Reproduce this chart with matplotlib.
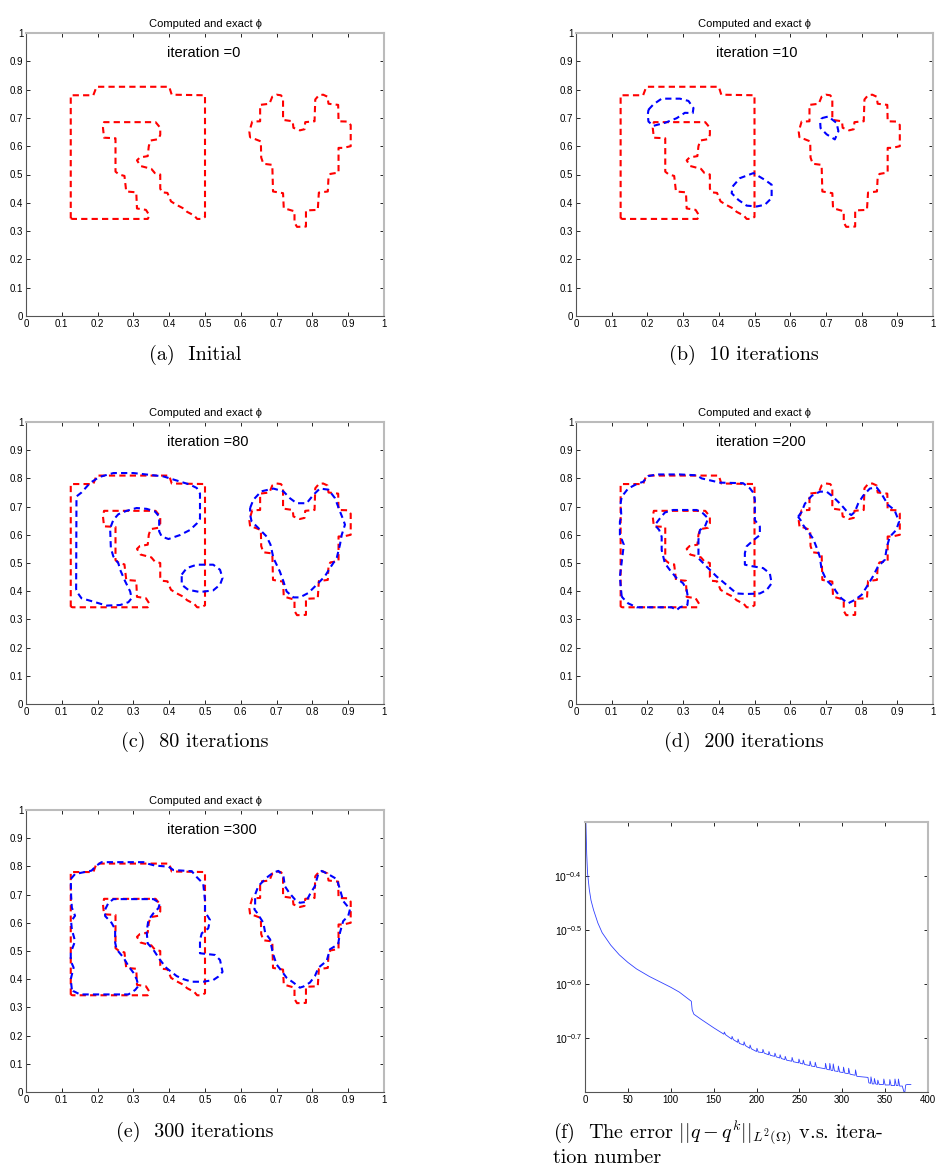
import numpy as np
import matplotlib.pyplot as plt
from matplotlib.ticker import FixedLocator, NullLocator, FuncFormatter

plt.rcParams['mathtext.fontset'] = 'cm'

# exact contour (same in every panel): the "R" block and the heart
exact_r = [(0.125, 0.345), (0.125, 0.780), (0.188, 0.780), (0.197, 0.810), (0.400, 0.810),
           (0.407, 0.782), (0.500, 0.780), (0.500, 0.350), (0.490, 0.343), (0.478, 0.343),
           (0.470, 0.355), (0.450, 0.368), (0.440, 0.380), (0.420, 0.393), (0.405, 0.405),
           (0.400, 0.420), (0.395, 0.435), (0.380, 0.437), (0.375, 0.450), (0.375, 0.500),
           (0.360, 0.505), (0.350, 0.520), (0.320, 0.530), (0.310, 0.550), (0.318, 0.560),
           (0.340, 0.565), (0.343, 0.600), (0.348, 0.620), (0.370, 0.625), (0.375, 0.640),
           (0.375, 0.665), (0.362, 0.685), (0.218, 0.685), (0.215, 0.665), (0.218, 0.630),
           (0.250, 0.628), (0.250, 0.510), (0.260, 0.500), (0.275, 0.495), (0.280, 0.440),
           (0.308, 0.437), (0.310, 0.380), (0.335, 0.375), (0.345, 0.355), (0.340, 0.343),
           (0.130, 0.343)]
exact_heart = [(0.626, 0.630), (0.624, 0.650), (0.628, 0.670), (0.632, 0.687), (0.654, 0.688),
               (0.654, 0.746), (0.680, 0.750), (0.688, 0.775), (0.700, 0.782), (0.712, 0.780),
               (0.718, 0.770), (0.718, 0.693), (0.745, 0.688), (0.747, 0.665), (0.765, 0.656),
               (0.778, 0.660), (0.780, 0.685), (0.806, 0.688), (0.808, 0.765), (0.818, 0.780),
               (0.830, 0.782), (0.842, 0.775), (0.845, 0.750), (0.872, 0.746), (0.873, 0.688),
               (0.898, 0.687), (0.907, 0.675), (0.907, 0.600), (0.886, 0.594), (0.873, 0.594),
               (0.873, 0.507), (0.850, 0.502), (0.845, 0.490), (0.843, 0.440), (0.818, 0.436),
               (0.815, 0.375), (0.782, 0.373), (0.782, 0.316), (0.757, 0.315), (0.750, 0.330),
               (0.750, 0.370), (0.720, 0.381), (0.718, 0.434), (0.690, 0.440), (0.688, 0.534),
               (0.663, 0.538), (0.657, 0.560), (0.656, 0.617), (0.640, 0.625)]

# computed contours, iteration 10
b_blob = [(0.203, 0.729), (0.217, 0.748), (0.240, 0.768), (0.291, 0.768), (0.315, 0.760),
          (0.329, 0.735), (0.327, 0.717), (0.305, 0.718), (0.282, 0.699), (0.268, 0.692),
          (0.250, 0.683), (0.217, 0.672), (0.203, 0.687), (0.201, 0.711)]
b_heart = [(0.688, 0.699), (0.707, 0.705), (0.730, 0.682), (0.735, 0.653), (0.725, 0.624),
           (0.702, 0.642), (0.685, 0.664), (0.684, 0.685)]
b_circle = [(0.439, 0.458), (0.459, 0.487), (0.497, 0.505), (0.529, 0.481), (0.548, 0.464),
            (0.548, 0.417), (0.529, 0.393), (0.506, 0.387), (0.478, 0.390), (0.455, 0.410),
            (0.436, 0.434)]

# iteration 80
c_r = [(0.140, 0.405), (0.141, 0.736), (0.155, 0.750), (0.179, 0.784), (0.205, 0.805),
       (0.244, 0.819), (0.300, 0.819), (0.328, 0.815), (0.384, 0.807), (0.412, 0.796),
       (0.458, 0.778), (0.477, 0.766), (0.486, 0.746), (0.486, 0.657), (0.477, 0.640),
       (0.458, 0.617), (0.430, 0.599), (0.398, 0.585), (0.379, 0.594), (0.372, 0.612),
       (0.372, 0.665), (0.360, 0.683), (0.337, 0.692), (0.309, 0.695), (0.281, 0.685),
       (0.258, 0.673), (0.244, 0.653), (0.235, 0.623), (0.237, 0.553), (0.244, 0.523),
       (0.258, 0.499), (0.263, 0.476), (0.277, 0.435), (0.291, 0.399), (0.295, 0.375),
       (0.286, 0.361), (0.263, 0.351), (0.225, 0.349), (0.188, 0.363), (0.155, 0.375),
       (0.142, 0.398)]
c_circle = [(0.435, 0.459), (0.449, 0.482), (0.477, 0.494), (0.523, 0.494), (0.542, 0.476),
            (0.549, 0.447), (0.542, 0.423), (0.523, 0.403), (0.486, 0.397), (0.453, 0.405),
            (0.435, 0.423)]
c_heart = [(0.626, 0.695), (0.635, 0.724), (0.657, 0.754), (0.691, 0.764), (0.719, 0.754),
           (0.737, 0.730), (0.756, 0.712), (0.784, 0.712), (0.803, 0.742), (0.821, 0.764),
           (0.845, 0.760), (0.863, 0.730), (0.877, 0.683), (0.886, 0.654), (0.891, 0.636),
           (0.882, 0.600), (0.877, 0.565), (0.868, 0.518), (0.849, 0.482), (0.835, 0.453),
           (0.812, 0.423), (0.789, 0.394), (0.765, 0.378), (0.747, 0.378), (0.728, 0.399),
           (0.719, 0.435), (0.709, 0.470), (0.691, 0.518), (0.683, 0.565), (0.672, 0.594),
           (0.649, 0.624), (0.630, 0.648), (0.626, 0.672)]

# iteration 200
d_r = [(0.128, 0.381), (0.125, 0.420), (0.123, 0.452), (0.134, 0.565), (0.123, 0.600),
       (0.123, 0.647), (0.127, 0.665), (0.125, 0.712), (0.128, 0.735), (0.146, 0.764),
       (0.170, 0.780), (0.188, 0.788), (0.202, 0.808), (0.226, 0.814), (0.291, 0.814),
       (0.338, 0.811), (0.352, 0.800), (0.403, 0.785), (0.468, 0.783), (0.487, 0.765),
       (0.498, 0.747), (0.501, 0.723), (0.501, 0.652), (0.515, 0.629), (0.515, 0.599),
       (0.498, 0.582), (0.478, 0.559), (0.473, 0.535), (0.473, 0.494), (0.496, 0.488),
       (0.524, 0.482), (0.543, 0.463), (0.548, 0.428), (0.534, 0.404), (0.515, 0.392),
       (0.478, 0.390), (0.450, 0.392), (0.422, 0.422), (0.394, 0.452), (0.366, 0.487),
       (0.343, 0.517), (0.343, 0.582), (0.347, 0.617), (0.361, 0.629), (0.370, 0.658),
       (0.356, 0.676), (0.338, 0.688), (0.272, 0.688), (0.249, 0.679), (0.235, 0.658),
       (0.221, 0.635), (0.233, 0.617), (0.240, 0.593), (0.240, 0.546), (0.249, 0.499),
       (0.263, 0.475), (0.282, 0.446), (0.300, 0.428), (0.310, 0.404), (0.314, 0.375),
       (0.312, 0.351), (0.291, 0.343), (0.282, 0.333), (0.268, 0.343), (0.198, 0.343),
       (0.170, 0.343), (0.146, 0.357), (0.132, 0.375)]
d_heart = [(0.622, 0.664), (0.632, 0.681), (0.641, 0.710), (0.660, 0.738), (0.683, 0.753),
           (0.702, 0.753), (0.720, 0.735), (0.743, 0.706), (0.762, 0.678), (0.771, 0.670),
           (0.781, 0.681), (0.790, 0.710), (0.804, 0.738), (0.823, 0.764), (0.842, 0.768),
           (0.855, 0.747), (0.874, 0.706), (0.892, 0.688), (0.905, 0.647), (0.897, 0.617),
           (0.879, 0.593), (0.871, 0.558), (0.865, 0.511), (0.846, 0.488), (0.832, 0.453),
           (0.818, 0.423), (0.800, 0.387), (0.781, 0.369), (0.762, 0.357), (0.743, 0.375),
           (0.729, 0.398), (0.720, 0.416), (0.701, 0.440), (0.688, 0.476), (0.683, 0.522),
           (0.673, 0.558), (0.664, 0.587), (0.650, 0.611), (0.636, 0.635), (0.629, 0.652)]

# iteration 300
e_r = [(0.128, 0.364), (0.125, 0.400), (0.133, 0.441), (0.125, 0.465), (0.125, 0.494),
       (0.137, 0.535), (0.128, 0.577), (0.126, 0.605), (0.137, 0.625), (0.128, 0.654),
       (0.126, 0.696), (0.125, 0.755), (0.137, 0.773), (0.183, 0.785), (0.197, 0.803),
       (0.211, 0.815), (0.328, 0.815), (0.342, 0.809), (0.360, 0.803), (0.398, 0.799),
       (0.412, 0.787), (0.463, 0.783), (0.477, 0.762), (0.495, 0.739), (0.500, 0.680),
       (0.500, 0.639), (0.514, 0.610), (0.509, 0.580), (0.491, 0.563), (0.486, 0.539),
       (0.486, 0.492), (0.528, 0.486), (0.542, 0.468), (0.549, 0.426), (0.537, 0.409),
       (0.523, 0.397), (0.495, 0.391), (0.463, 0.391), (0.440, 0.400), (0.421, 0.411),
       (0.393, 0.439), (0.374, 0.469), (0.356, 0.504), (0.340, 0.527), (0.337, 0.569),
       (0.342, 0.610), (0.356, 0.634), (0.370, 0.652), (0.374, 0.670), (0.356, 0.684),
       (0.244, 0.684), (0.230, 0.670), (0.221, 0.647), (0.221, 0.624), (0.239, 0.600),
       (0.249, 0.577), (0.249, 0.530), (0.253, 0.506), (0.272, 0.477), (0.286, 0.447),
       (0.300, 0.423), (0.309, 0.400), (0.314, 0.376), (0.305, 0.362), (0.286, 0.346),
       (0.151, 0.346), (0.132, 0.358)]
e_heart = [(0.640, 0.665), (0.640, 0.700), (0.649, 0.730), (0.672, 0.760), (0.691, 0.778),
           (0.705, 0.784), (0.719, 0.766), (0.723, 0.730), (0.735, 0.707), (0.751, 0.683),
           (0.765, 0.671), (0.782, 0.674), (0.793, 0.701), (0.807, 0.730), (0.816, 0.772),
           (0.826, 0.784), (0.845, 0.772), (0.868, 0.755), (0.877, 0.719), (0.886, 0.677),
           (0.905, 0.648), (0.900, 0.624), (0.886, 0.606), (0.877, 0.565), (0.872, 0.524),
           (0.849, 0.506), (0.840, 0.465), (0.817, 0.441), (0.807, 0.411), (0.793, 0.388),
           (0.775, 0.374), (0.765, 0.370), (0.747, 0.388), (0.728, 0.405), (0.714, 0.429),
           (0.700, 0.452), (0.689, 0.494), (0.682, 0.541), (0.668, 0.565), (0.663, 0.600),
           (0.645, 0.636), (0.638, 0.648)]

panel_iters = [0, 10, 80, 200, 300]
panel_blue = [[], [b_blob, b_heart, b_circle], [c_r, c_circle, c_heart],
              [d_r, d_heart], [e_r, e_heart]]
captions = ['(a)  Initial', '(b)  10 iterations', '(c)  80 iterations',
            '(d)  200 iterations', '(e)  300 iterations']

# error history (iteration, log10 of error)
err_pts = [(0, -0.22), (1, -0.30), (2, -0.36), (3, -0.395), (4, -0.41), (5, -0.425), (7, -0.445),
           (10, -0.463), (15, -0.487), (20, -0.505), (30, -0.528), (40, -0.546), (50, -0.560),
           (60, -0.572), (75, -0.586), (90, -0.598), (100, -0.606), (110, -0.615), (124, -0.632),
           (125, -0.648), (127, -0.656), (135, -0.665), (150, -0.681), (160, -0.691),
           (162, -0.693), (162.5, -0.689), (164, -0.694), (171, -0.702), (171.5, -0.697),
           (173, -0.703), (178, -0.708), (178.5, -0.702), (180, -0.710), (185, -0.713),
           (185.5, -0.707), (187, -0.714), (192, -0.719), (192.5, -0.713), (194, -0.720),
           (200, -0.725), (200.5, -0.719), (202, -0.726), (207, -0.727), (207.5, -0.721),
           (209, -0.728), (214, -0.731), (214.5, -0.725), (216, -0.732), (221, -0.734),
           (221.5, -0.728), (223, -0.735), (227, -0.737), (227.5, -0.731), (229, -0.738),
           (233, -0.740), (233.5, -0.734), (235, -0.741), (241, -0.743), (241.5, -0.736),
           (243, -0.744), (249, -0.746), (249.5, -0.739), (251, -0.747), (254, -0.748),
           (254.5, -0.741), (256, -0.749), (262, -0.751), (262.5, -0.743), (264, -0.752),
           (268, -0.753), (268.5, -0.745), (270, -0.754), (280, -0.757), (280.5, -0.747),
           (282, -0.758), (285, -0.759), (285.5, -0.747), (287, -0.760), (289, -0.760),
           (289.5, -0.748), (291, -0.761), (295, -0.762), (295.5, -0.752), (297, -0.763),
           (301, -0.764), (301.5, -0.754), (303, -0.765), (307, -0.766), (307.5, -0.756),
           (309, -0.767), (315, -0.769), (315.5, -0.759), (317, -0.771), (330, -0.773),
           (331, -0.783), (333, -0.784), (333.5, -0.772), (335, -0.785), (337, -0.785),
           (337.5, -0.775), (339, -0.785), (341, -0.786), (341.5, -0.778), (343, -0.786),
           (348, -0.786), (348.5, -0.776), (350, -0.787), (355, -0.787), (355.5, -0.777),
           (357, -0.788), (361, -0.788), (361.5, -0.776), (363, -0.788), (365, -0.788),
           (365.5, -0.776), (367, -0.789), (370, -0.789), (372, -0.800), (373, -0.800),
           (374, -0.787), (376, -0.786), (380, -0.786)]
err_ticks = [-0.7, -0.6, -0.5, -0.4]
grid_ticks = [0, 0.1, 0.2, 0.3, 0.4, 0.5, 0.6, 0.7, 0.8, 0.9, 1]

# axes rectangles in figure pixels (left, top, right, bottom) for a 936x1169 image
W, H = 936, 1169
boxes = [(26, 33, 384, 316), (576, 33, 933, 316), (26, 422, 384, 704),
         (576, 422, 933, 704), (26, 810, 384, 1092)]
cap_pos = [(195, 355), (744, 355), (195, 742), (744, 742), (195, 1132)]

sans = ['Liberation Sans', 'DejaVu Sans']


def style_axes(ax):
    ax.tick_params(direction='in', length=3, width=0.6, top=True, right=True,
                   labelsize=7, pad=2, colors='black')
    for lab in ax.get_xticklabels() + ax.get_yticklabels():
        lab.set_family(sans)
    ax.spines['left'].set_color('#555555')
    ax.spines['bottom'].set_color('#555555')
    ax.spines['left'].set_linewidth(0.8)
    ax.spines['bottom'].set_linewidth(0.8)
    ax.spines['top'].set_color('#bbbbbb')
    ax.spines['right'].set_color('#bbbbbb')
    ax.spines['top'].set_linewidth(1.5)
    ax.spines['right'].set_linewidth(1.5)


def closed(pts):
    a = np.array(pts)
    return np.vstack([a, a[:1]])


fig = plt.figure(figsize=(W / 100, H / 100), dpi=100)

for i in range(5):
    l, t, r, b = boxes[i]
    ax = fig.add_axes([l / W, 1 - b / H, (r - l) / W, (b - t) / H])
    for shape in [exact_r, exact_heart]:
        p = closed(shape)
        ax.plot(p[:, 0], p[:, 1], color='red', lw=1.5, dashes=(3, 2))
    for shape in panel_blue[i]:
        p = closed(shape)
        ax.plot(p[:, 0], p[:, 1], color='blue', lw=1.5, dashes=(3, 2))
    ax.set_xlim(0, 1)
    ax.set_ylim(0, 1)
    ax.xaxis.set_major_locator(FixedLocator(grid_ticks))
    ax.yaxis.set_major_locator(FixedLocator(grid_ticks))
    ax.xaxis.set_major_formatter(FuncFormatter(lambda v, p: '%g' % round(v, 2)))
    ax.yaxis.set_major_formatter(FuncFormatter(lambda v, p: '%g' % round(v, 2)))
    style_axes(ax)
    ax.set_title('Computed and exact ϕ', fontsize=8, family=sans, pad=4)
    ax.text(0.393, 0.93, 'iteration =%d' % panel_iters[i], fontsize=10.5, family=sans,
            ha='left', va='center', transform=ax.transData)
    cx, cy = cap_pos[i]
    fig.text(cx / W, 1 - cy / H, captions[i], fontsize=14.5, family='cmr10',
             ha='center', va='center')

# panel (f): error vs iteration
err = np.array(err_pts)
l, t, r, b = 585, 822, 928, 1092
axf = fig.add_axes([l / W, 1 - b / H, (r - l) / W, (b - t) / H])
axf.plot(err[:, 0], 10 ** err[:, 1], color='#3040ff', lw=0.6)
axf.set_yscale('log')
axf.set_xlim(0, 400)
axf.set_ylim(10 ** -0.8, 10 ** -0.3)
axf.yaxis.set_major_locator(FixedLocator([10 ** v for v in err_ticks]))
axf.yaxis.set_minor_locator(NullLocator())
axf.yaxis.set_major_formatter(FuncFormatter(lambda v, p: r'$\mathregular{10^{%.1f}}$' % np.log10(v)))
axf.xaxis.set_major_locator(FixedLocator([0, 50, 100, 150, 200, 250, 300, 350, 400]))
style_axes(axf)
for lab in axf.get_yticklabels():
    lab.set_fontsize(7.5)

fig.text(553 / W, 1 - 1133 / H,
         r'(f)  The error $||q-q^k||_{L^2(\Omega)}$ v.s. itera-',
         fontsize=14.5, family='cmr10', ha='left', va='center')
fig.text(553 / W, 1 - 1158 / H, 'tion number', fontsize=14.5, family='cmr10',
         ha='left', va='center')

plt.savefig('out.png', dpi=100)
